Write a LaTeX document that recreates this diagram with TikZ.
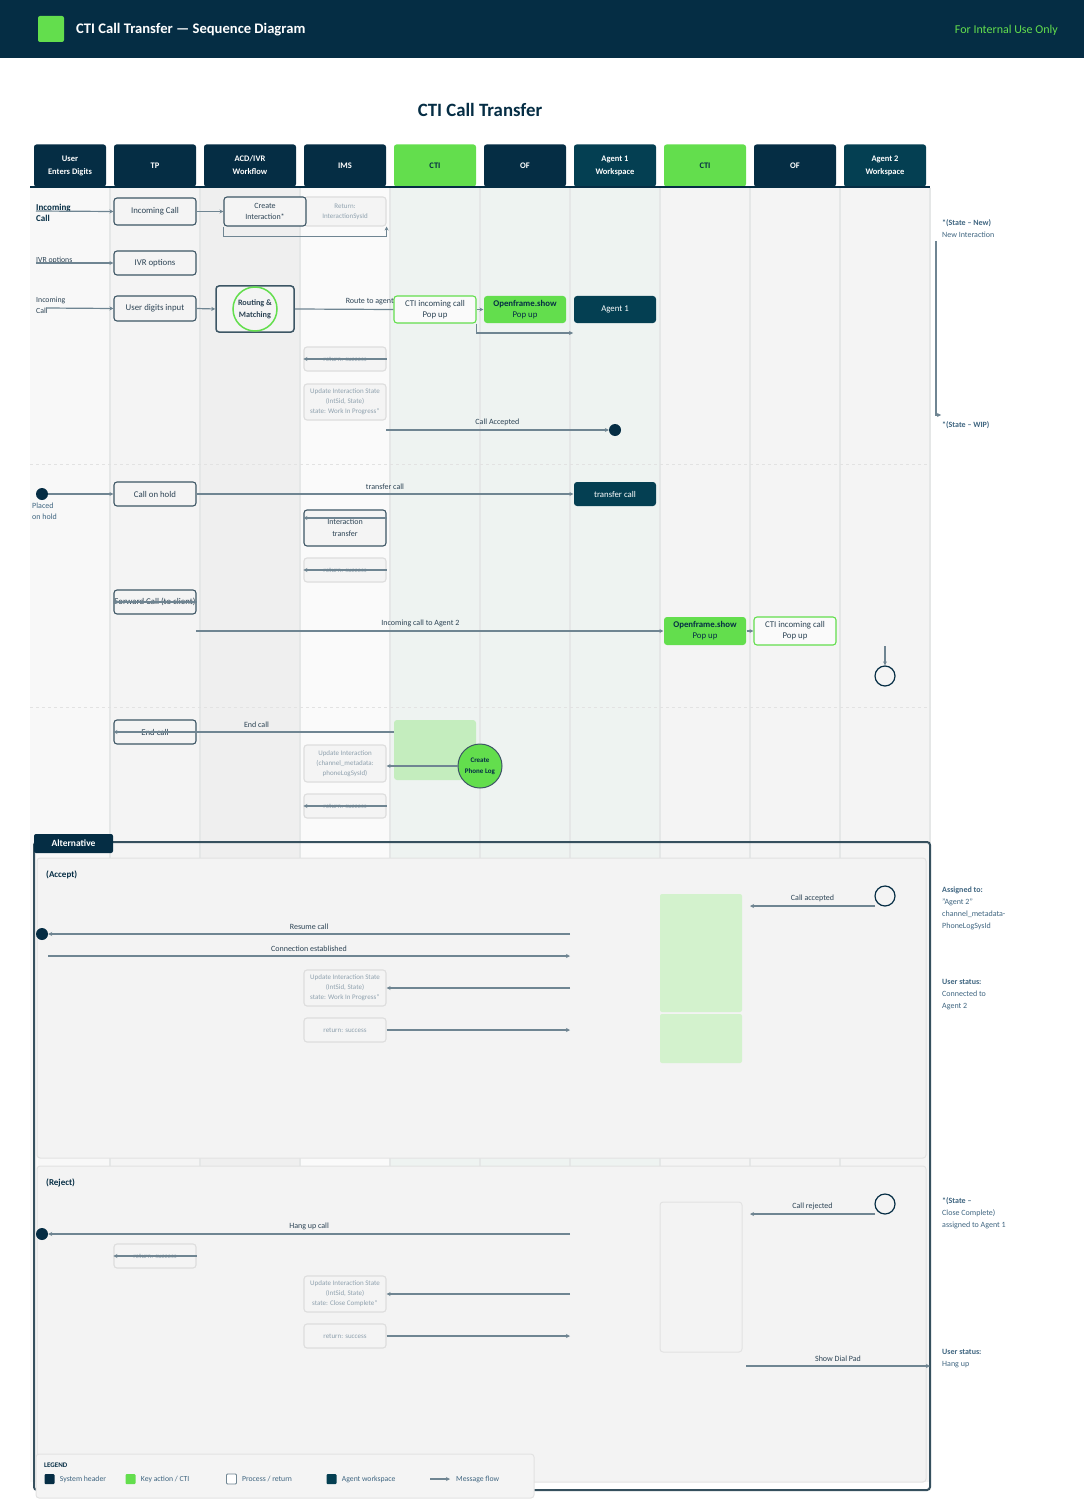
\documentclass[tikz,border=0pt]{standalone}
\usepackage{fontspec}
\setmainfont{Carlito}
\usetikzlibrary{arrows.meta, positioning, calc}
\definecolor{navy}{HTML}{052D44}
\definecolor{keygreen}{HTML}{63DE4D}
\definecolor{agentteal}{HTML}{043F52}
\definecolor{softgreen}{HTML}{C4EDBE}
\definecolor{palegreen}{HTML}{D3F2CD}
\definecolor{flowgrey}{HTML}{6F8592}
\definecolor{boxline}{HTML}{3D5665}
\definecolor{boxtext}{HTML}{2D4455}
\definecolor{notetext}{HTML}{3F6580}
\definecolor{fadeline}{HTML}{DDDDDD}
\definecolor{fadetext}{HTML}{8FA1AE}
\definecolor{laneA}{HTML}{F8F8F8}
\definecolor{laneB}{HTML}{F4F4F4}
\definecolor{laneC}{HTML}{EFEFEF}
\definecolor{laneD}{HTML}{FAFAFA}
\definecolor{laneE}{HTML}{EEF3F1}
\definecolor{lanesep}{HTML}{E5E7E7}
\definecolor{optfill}{HTML}{F3F3F3}
\definecolor{optline}{HTML}{E2E2E2}
\definecolor{frameline}{HTML}{36505E}

\newcommand\sz[2]{\fontsize{#1}{#2}\selectfont}

\tikzset{
	colhead/.style={
			rectangle,
			rounded corners=2.5pt,
			fill=navy,
			text=white,
			font=\bfseries\sz{8.5}{13},
			minimum width=82pt,
			minimum height=42pt,
			align=center,
			inner sep=0pt
		},
	colkey/.style={colhead, fill=keygreen, text=navy},
	colagent/.style={colhead, fill=agentteal},
	procbox/.style={
			rectangle,
			rounded corners=3pt,
			draw=boxline,
			line width=1.1pt,
			fill=laneB,
			text=boxtext,
			font=\sz{8.8}{11},
			minimum width=82pt,
			minimum height=24pt,
			align=center,
			inner sep=0pt
		},
	fadebox/.style={procbox, draw=fadeline, text=fadetext, font=\sz{7}{10}},
	keybox/.style={procbox, draw=none, fill=keygreen, text=navy},
	ctibox/.style={procbox, draw=keygreen, fill=laneD},
	agentbox/.style={procbox, draw=none, fill=agentteal, text=white},
	holddot/.style={circle, fill=navy, minimum size=12pt, inner sep=0pt},
	ring/.style={circle, draw=navy, line width=1.2pt, minimum size=20pt, inner sep=0pt},
	msg/.style={draw=flowgrey, line width=1.2pt, -{Stealth[length=4pt, width=4pt]}},
	flow/.style={draw=flowgrey, line width=1.2pt},
	msglabel/.style={font=\sz{8}{9}, text=boxtext, inner sep=1.5pt, above=2.5pt},
	sidetext/.style={anchor=north west, align=left, font=\sz{7.8}{11}, text=boxtext, inner sep=0pt},
	note/.style={anchor=north west, align=left, font=\sz{8}{12}, text=notetext, inner sep=0pt},
	casetitle/.style={anchor=west, font=\bfseries\sz{9}{10}, text=navy, inner sep=0pt},
	legtext/.style={font=\sz{7.7}{8}, text=notetext, inner sep=0pt, anchor=west},
	swatch/.style={rectangle, rounded corners=1pt, minimum size=10pt, inner sep=0pt}
}

\begin{document}
\begin{tikzpicture}[x=1pt, y=-1pt]
\useasboundingbox (0,0) rectangle (1084,1511);

% header bar
\fill[navy] (0,0) rectangle (1084,58);
\node[swatch, fill=keygreen, rounded corners=2pt, minimum size=26pt] (logo) at (51,29) {};
\node[anchor=base west, inner sep=0pt, text=white, font=\bfseries\sz{14.6}{16}] (maintitle) at (76,34) {CTI Call Transfer — Sequence Diagram};
\node[anchor=base east, inner sep=0pt, text=keygreen, font=\sz{12}{13}] (internal) at (1058,33.5) {For Internal Use Only};
\node[text=navy, font=\bfseries\sz{18.8}{20}] (title) at (480,110) {CTI Call Transfer};

% lanes
\foreach \xa/\xb/\lc in {30/110/laneA, 110/200/laneB, 200/300/laneC, 300/390/laneD, 390/660/laneE, 660/930/laneB}
	\fill[\lc] (\xa,188) rectangle (\xb,1482);
\foreach \x in {110,200,300,390,480,570,660,750,840,930}
	\draw[lanesep, line width=1.2pt] (\x,188) -- (\x,1482);
\draw[optline, dashed, line width=1pt] (30,464) -- (930,464);
\draw[optline, dashed, line width=1pt] (30,707) -- (930,707);

% column headers
\foreach \cx/\w/\sty/\nm/\txt in {70/72/colhead/user/{User\\Enters Digits}, 155/82/colhead/tp/TP,
		250/92/colhead/acd/{ACD/IVR\\Workflow}, 345/82/colhead/ims/IMS, 435/82/colkey/ctia/CTI,
		525/82/colhead/ofa/OF, 615/82/colagent/agenta/{Agent 1\\Workspace}, 705/82/colkey/ctib/CTI,
		795/82/colhead/ofb/OF, 885/82/colagent/agentb/{Agent 2\\Workspace}}
	\node[\sty, minimum width=\w] (h\nm) at (\cx,165.5) {\txt};
\draw[navy, line width=1.2pt] (30,187) -- (930,187);

% first call
\node[sidetext, font=\bfseries\sz{9}{11}, text=navy] (incoming) at (36,203.5) {Incoming\\Call};
\node[sidetext] (ivrtext) at (36,256.5) {IVR options};
\node[sidetext] (incsmall) at (36,296.5) {Incoming\\Call};
\coordinate (in0) at (36,211);
\coordinate (iv0) at (36,263);
\coordinate (ic0) at (46,308);

\node[procbox, minimum height=27] (inc) at (155,211.5) {Incoming Call};
\node[fadebox, minimum height=29] (ret) at (345,211.5) {Return:\\InteractionSysId};
\node[procbox, minimum height=29, font=\sz{8}{11}] (create) at (265,211.5) {Create\\Interaction*};
\node[procbox] (ivr) at (155,263) {IVR options};
\node[procbox, minimum height=25] (digits) at (155,308.5) {User digits input};
\node[procbox, minimum width=78, minimum height=46, line width=1.5pt, font=\bfseries\sz{8.2}{12}] (routing) at (255,309) {Routing \&\\Matching};
\draw[keygreen, line width=1.5pt] (routing.center) circle (22);
\node[ctibox, minimum height=27] (ctia) at (435,309.5) {CTI incoming call\\Pop up};
\node[keybox, minimum height=27] (ofa) at (525,309.5) {\textbf{Openframe.show}\\Pop up};
\node[agentbox, minimum height=27] (agenta) at (615,309.5) {Agent 1};
\coordinate (a1in) at (573,333);
\node[fadebox] (succa) at (345,359) {return: success};
\node[fadebox, minimum height=36] (upda) at (345,402) {Update Interaction State\\(IntSid, State)\\state: Work In Progress*};
\node[holddot] (accdot) at (615,430) {};
\coordinate (acc0) at (386,430);

\draw[msg] (in0) -- (inc.west);
\draw[msg] (inc.east) -- (create.west);
\draw[msg] (create.south west) -- ++(0,10) -| (ret.south east);
\draw[msg] (iv0) -- (ivr.west);
\draw[msg] (ic0) -- (digits.west);
\draw[msg] (digits.east) -- (routing.west);
\draw[flow] (routing.east) -- (ctia.west) node[msglabel, pos=0.76] {Route to agent};
\draw[msg] (ctia.east) -- (ofa.west);
\draw[msg] (ctia.south east) |- (a1in);
\draw[msg] (succa.east) -- (succa.west);
\draw[msg] (acc0) -- (accdot) node[msglabel, midway] {Call Accepted};

% state notes
\node[note] (statenew) at (942,219) {\textbf{*(State – New)}\\New Interaction};
\node[note] (statewip) at (942,421) {\textbf{*(State – WIP)}};
\coordinate (sn0) at (936,241);
\coordinate (sn1) at (941,415);
\draw[msg] (sn0) |- (sn1);

% transfer
\node[holddot] (holddot) at (42,494) {};
\node[sidetext, text=notetext, font=\sz{8}{11}] (placed) at (32,502.5) {Placed\\on hold};
\node[procbox] (hold) at (155,494) {Call on hold};
\node[agentbox] (xfer) at (615,494) {transfer call};
\node[procbox, minimum height=36, font=\sz{8}{12}] (ixfer) at (345,528) {Interaction\\transfer};
\node[fadebox] (succb) at (345,570) {return: success};
\node[procbox] (fwd) at (155,602) {Forward Call (to client)};
\coordinate (ia2) at (196,631);
\node[keybox, minimum height=28] (ofb) at (705,631) {\textbf{Openframe.show}\\Pop up};
\node[ctibox, minimum height=28] (ctib) at (795,631) {CTI incoming call\\Pop up};
\coordinate (dn) at (885,646);
\node[ring] (ringa) at (885,676) {};

\draw[msg] (holddot.east) -- (hold.west);
\draw[msg] (hold.east) -- (xfer.west) node[msglabel, midway] {transfer call};
\draw[msg] ([yshift=10pt]ixfer.east) -- ([yshift=10pt]ixfer.west);
\draw[msg] (succb.east) -- (succb.west);
\draw[msg] (fwd.east) -- (fwd.west);
\draw[msg] (ia2) -- (ofb.west) node[msglabel, pos=0.48] {Incoming call to Agent 2};
\draw[msg] (ofb.east) -- (ctib.west);
\draw[msg] (dn) -- (ringa.north);

% end call
\fill[softgreen, rounded corners=3pt] (394,720) rectangle (476,780);
\node[procbox] (endc) at (155,732) {End call};
\coordinate (ec0) at (394,732);
\node[fadebox, minimum height=37] (updb) at (345,763.5) {Update Interaction\\(channel\_metadata:\\phoneLogSysId)};
\node[circle, draw=boxline, line width=1pt, fill=keygreen, minimum size=44pt, inner sep=0pt, align=center, text=navy, font=\bfseries\sz{7}{11}] (plog) at (480,766) {Create\\Phone Log};
\node[fadebox] (succc) at (345,806) {return: success};

\draw[msg] (ec0) -- (endc.west) node[msglabel, pos=0.49] {End call};
\draw[msg] (plog.west) -- (plog.west -| updb.east);
\draw[msg] (succc.east) -- (succc.west);

% alternative frame
\draw[frameline, line width=2pt, rounded corners=3pt] (34,842) rectangle (930,1490);
\node[rectangle, rounded corners=2pt, fill=navy, text=white, font=\bfseries\sz{9.5}{10}, minimum width=79, minimum height=19, inner sep=0pt] (alt) at (73.5,843.5) {Alternative};
\filldraw[fill=optfill, draw=optline, line width=1pt, rounded corners=3pt] (37,858) rectangle (926,1158);
\filldraw[fill=optfill, draw=optline, line width=1pt, rounded corners=3pt] (37,1166) rectangle (926,1482);

% accept
\node[casetitle] (accept) at (46,874.5) {(Accept)};
\fill[palegreen, rounded corners=2pt] (660,894) rectangle (742,1012);
\fill[palegreen, rounded corners=2pt] (660,1014) rectangle (742,1063);
\node[ring] (ringb) at (885,896) {};
\coordinate (ca0) at (875,906);
\coordinate (ca1) at (750,906);
\node[holddot] (resdot) at (42,934) {};
\coordinate (rc0) at (570,934);
\coordinate (ce0) at (48,956);
\coordinate (ce1) at (570,956);
\node[fadebox, minimum height=36] (updc) at (345,988) {Update Interaction State\\(IntSid, State)\\state: Work In Progress*};
\coordinate (uc0) at (570,988);
\node[fadebox] (succd) at (345,1030) {return: success};
\coordinate (sd1) at (570,1030);

\draw[msg] (ca0) -- (ca1) node[msglabel, midway] {Call accepted};
\draw[msg] (rc0) -- (resdot.east) node[msglabel, midway] {Resume call};
\draw[msg] (ce0) -- (ce1) node[msglabel, midway] {Connection established};
\draw[msg] (uc0) -- (updc.east);
\draw[msg] (succd.east) -- (sd1);

\node[note] (assigned) at (942,887) {\textbf{Assigned to:}\\"Agent 2"\\channel\_metadata-\\PhoneLogSysId};
\node[note] (statusa) at (942,979) {\textbf{User status:}\\Connected to\\Agent 2};

% reject
\node[casetitle] (reject) at (46,1182.5) {(Reject)};
\filldraw[fill=optfill, draw=optline, line width=1pt, rounded corners=3pt] (660,1202) rectangle (742,1352);
\node[ring] (ringc) at (885,1204) {};
\coordinate (cr0) at (875,1214);
\coordinate (cr1) at (750,1214);
\node[holddot] (hangdot) at (42,1234) {};
\coordinate (hu0) at (570,1234);
\node[fadebox] (succe) at (155,1256) {return: success};
\node[fadebox, minimum height=36] (updd) at (345,1294) {Update Interaction State\\(IntSid, State)\\state: Close Complete*};
\coordinate (ud0) at (570,1294);
\node[fadebox] (succf) at (345,1336) {return: success};
\coordinate (sf1) at (570,1336);
\coordinate (dp0) at (746,1366);
\coordinate (dp1) at (930,1366);

\draw[msg] (cr0) -- (cr1) node[msglabel, midway] {Call rejected};
\draw[msg] (hu0) -- (hangdot.east) node[msglabel, midway] {Hang up call};
\draw[msg] (succe.east) -- (succe.west);
\draw[msg] (ud0) -- (updd.east);
\draw[msg] (succf.east) -- (sf1);
\draw[msg] (dp0) -- (dp1) node[msglabel, midway] {Show Dial Pad};

\node[note] (statecc) at (942,1197) {\textbf{*(State –}\\Close Complete)\\assigned to Agent 1};
\node[note] (statusb) at (942,1349) {\textbf{User status:}\\Hang up};

% legend
\filldraw[fill=laneB, draw=optline, line width=1pt, rounded corners=3pt] (36,1454) rectangle (534,1498);
\node[legtext, text=navy, font=\bfseries\sz{7}{8}] (legend) at (44,1465) {LEGEND};
\node[swatch, fill=navy] (lga) at (49.5,1479) {};
\node[legtext, right=5pt of lga] (lgatext) {System header};
\node[swatch, fill=keygreen] (lgb) at (130.5,1479) {};
\node[legtext, right=5pt of lgb] (lgbtext) {Key action / CTI};
\node[swatch, fill=white, draw=flowgrey, line width=0.8pt] (lgc) at (231.5,1479) {};
\node[legtext, right=5pt of lgc] (lgctext) {Process / return};
\node[swatch, fill=agentteal] (lgd) at (331.5,1479) {};
\node[legtext, right=5pt of lgd] (lgdtext) {Agent workspace};
\coordinate (lge0) at (430,1479);
\coordinate (lge1) at (450,1479);
\draw[msg] (lge0) -- (lge1);
\node[legtext] (lgetext) at (456,1479) {Message flow};
\end{tikzpicture}
\end{document}
